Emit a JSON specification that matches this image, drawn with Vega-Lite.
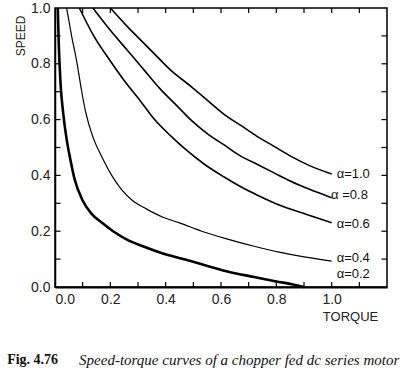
{
  "$schema": "https://vega.github.io/schema/vega-lite/v6.json",
  "width": 332,
  "height": 279,
  "autosize": {"type": "none"},
  "padding": {"left": 55, "top": 8, "right": 15, "bottom": 85},
  "config": {"view": {"stroke": "black", "strokeWidth": 1.5}},
  "data": {"values": [
      {"alpha":"0.2","torque":0.01,"speed":1.0},{"alpha":"0.2","torque":0.014,"speed":0.86},{"alpha":"0.2","torque":0.02,"speed":0.73},{"alpha":"0.2","torque":0.03,"speed":0.62},{"alpha":"0.2","torque":0.042,"speed":0.53},{"alpha":"0.2","torque":0.055,"speed":0.46},{"alpha":"0.2","torque":0.07,"speed":0.39},{"alpha":"0.2","torque":0.1,"speed":0.31},{"alpha":"0.2","torque":0.13,"speed":0.265},{"alpha":"0.2","torque":0.17,"speed":0.23},{"alpha":"0.2","torque":0.21,"speed":0.2},{"alpha":"0.2","torque":0.26,"speed":0.17},{"alpha":"0.2","torque":0.32,"speed":0.145},{"alpha":"0.2","torque":0.39,"speed":0.12},{"alpha":"0.2","torque":0.49,"speed":0.093},{"alpha":"0.2","torque":0.56,"speed":0.073},{"alpha":"0.2","torque":0.63,"speed":0.054},{"alpha":"0.2","torque":0.72,"speed":0.036},{"alpha":"0.2","torque":0.8,"speed":0.02},{"alpha":"0.2","torque":0.86,"speed":0.009},{"alpha":"0.2","torque":0.9,"speed":0.0},
      {"alpha":"0.4","torque":0.042,"speed":1.0},{"alpha":"0.4","torque":0.06,"speed":0.9},{"alpha":"0.4","torque":0.08,"speed":0.8},{"alpha":"0.4","torque":0.095,"speed":0.71},{"alpha":"0.4","torque":0.11,"speed":0.63},{"alpha":"0.4","torque":0.14,"speed":0.53},{"alpha":"0.4","torque":0.17,"speed":0.465},{"alpha":"0.4","torque":0.205,"speed":0.4},{"alpha":"0.4","torque":0.24,"speed":0.35},{"alpha":"0.4","torque":0.28,"speed":0.31},{"alpha":"0.4","torque":0.33,"speed":0.28},{"alpha":"0.4","torque":0.39,"speed":0.25},{"alpha":"0.4","torque":0.45,"speed":0.23},{"alpha":"0.4","torque":0.53,"speed":0.2},{"alpha":"0.4","torque":0.63,"speed":0.17},{"alpha":"0.4","torque":0.72,"speed":0.146},{"alpha":"0.4","torque":0.81,"speed":0.125},{"alpha":"0.4","torque":0.9,"speed":0.108},{"alpha":"0.4","torque":1.0,"speed":0.093},
      {"alpha":"0.6","torque":0.088,"speed":1.0},{"alpha":"0.6","torque":0.14,"speed":0.9},{"alpha":"0.6","torque":0.2,"speed":0.81},{"alpha":"0.6","torque":0.25,"speed":0.74},{"alpha":"0.6","torque":0.31,"speed":0.665},{"alpha":"0.6","torque":0.36,"speed":0.6},{"alpha":"0.6","torque":0.42,"speed":0.54},{"alpha":"0.6","torque":0.47,"speed":0.495},{"alpha":"0.6","torque":0.54,"speed":0.44},{"alpha":"0.6","torque":0.61,"speed":0.395},{"alpha":"0.6","torque":0.67,"speed":0.36},{"alpha":"0.6","torque":0.73,"speed":0.33},{"alpha":"0.6","torque":0.82,"speed":0.29},{"alpha":"0.6","torque":0.91,"speed":0.26},{"alpha":"0.6","torque":1.0,"speed":0.23},
      {"alpha":"0.8","torque":0.137,"speed":1.0},{"alpha":"0.8","torque":0.2,"speed":0.92},{"alpha":"0.8","torque":0.26,"speed":0.85},{"alpha":"0.8","torque":0.32,"speed":0.78},{"alpha":"0.8","torque":0.38,"speed":0.71},{"alpha":"0.8","torque":0.44,"speed":0.65},{"alpha":"0.8","torque":0.49,"speed":0.6},{"alpha":"0.8","torque":0.55,"speed":0.55},{"alpha":"0.8","torque":0.61,"speed":0.51},{"alpha":"0.8","torque":0.67,"speed":0.47},{"alpha":"0.8","torque":0.73,"speed":0.44},{"alpha":"0.8","torque":0.79,"speed":0.41},{"alpha":"0.8","torque":0.85,"speed":0.38},{"alpha":"0.8","torque":0.92,"speed":0.35},{"alpha":"0.8","torque":1.0,"speed":0.32},
      {"alpha":"1.0","torque":0.2,"speed":1.0},{"alpha":"1.0","torque":0.26,"speed":0.935},{"alpha":"1.0","torque":0.32,"speed":0.875},{"alpha":"1.0","torque":0.37,"speed":0.825},{"alpha":"1.0","torque":0.415,"speed":0.78},{"alpha":"1.0","torque":0.49,"speed":0.72},{"alpha":"1.0","torque":0.55,"speed":0.67},{"alpha":"1.0","torque":0.61,"speed":0.62},{"alpha":"1.0","torque":0.67,"speed":0.58},{"alpha":"1.0","torque":0.73,"speed":0.54},{"alpha":"1.0","torque":0.79,"speed":0.505},{"alpha":"1.0","torque":0.85,"speed":0.47},{"alpha":"1.0","torque":0.92,"speed":0.435},{"alpha":"1.0","torque":1.0,"speed":0.405}
  ]},
  "layer": [
    {
      "data": {"values": [{"t":0.1},{"t":0.2},{"t":0.3},{"t":0.4},{"t":0.5},{"t":0.6},{"t":0.7},{"t":0.8},{"t":0.9},{"t":1.0},{"t":1.1}]},
      "mark": {"type": "rule", "color": "black", "strokeWidth": 1.2},
      "encoding": {
        "x": {
          "field": "t", "type": "quantitative",
          "scale": {"domain": [0, 1.2], "nice": false, "zero": false},
          "axis": {
            "orient": "bottom", "values": [0,0.2,0.4,0.6,0.8,1.0], "format": ".1f",
            "grid": false, "domainColor": "black", "domainWidth": 2, "tickSize": 0,
            "labelPadding": 5, "labelFontSize": 14, "labelColor": "#222", "labelFont": "Liberation Sans",
            "title": "TORQUE", "titleFont": "Liberation Sans", "titleFontSize": 13, "titleFontWeight": "normal", "titleColor": "#222",
            "titleX": 295, "titleY": 29, "titleAlign": "center", "titleBaseline": "middle"
          }
        },
        "y": {
          "datum": 0, "type": "quantitative",
          "scale": {"domain": [0, 1], "nice": false, "zero": false},
          "axis": {
            "orient": "left", "values": [0,0.2,0.4,0.6,0.8,1.0], "format": ".1f",
            "grid": false, "domainColor": "black", "domainWidth": 1.5, "tickSize": 0,
            "labelPadding": 5, "labelFontSize": 14, "labelColor": "#222", "labelFont": "Liberation Sans",
            "title": "SPEED", "titleFont": "Liberation Sans", "titleFontSize": 12, "titleFontWeight": "normal", "titleColor": "#222",
            "titleAngle": -90, "titleX": -35, "titleY": 7, "titleAlign": "right", "titleBaseline": "middle"
          }
        },
        "y2": {"datum": 0.018}
      }
    },
    {
      "data": {"values": [{"t":0.1},{"t":0.2},{"t":0.3},{"t":0.4},{"t":0.5},{"t":0.6},{"t":0.7},{"t":0.8},{"t":0.9},{"t":1.0},{"t":1.1}]},
      "mark": {"type": "rule", "color": "black", "strokeWidth": 1.2},
      "encoding": {"x": {"field": "t", "type": "quantitative"}, "y": {"datum": 1, "type": "quantitative"}, "y2": {"datum": 0.982}}
    },
    {
      "data": {"values": [{"t":0.1},{"t":0.2},{"t":0.3},{"t":0.4},{"t":0.5},{"t":0.6},{"t":0.7},{"t":0.8},{"t":0.9}]},
      "mark": {"type": "rule", "color": "black", "strokeWidth": 1.2},
      "encoding": {"y": {"field": "t", "type": "quantitative"}, "x": {"datum": 0, "type": "quantitative"}, "x2": {"datum": 0.02}}
    },
    {
      "data": {"values": [{"t":0.1},{"t":0.2},{"t":0.3},{"t":0.4},{"t":0.5},{"t":0.6},{"t":0.7},{"t":0.8},{"t":0.9}]},
      "mark": {"type": "rule", "color": "black", "strokeWidth": 1.2},
      "encoding": {"y": {"field": "t", "type": "quantitative"}, "x": {"datum": 1.2, "type": "quantitative"}, "x2": {"datum": 1.18}}
    },
    {
      "transform": [{"filter": "datum.alpha == '0.2'"}],
      "mark": {"type": "line", "interpolate": "monotone", "color": "black", "strokeWidth": 2.6},
      "encoding": {"x": {"field": "torque", "type": "quantitative"}, "y": {"field": "speed", "type": "quantitative"}}
    },
    {
      "transform": [{"filter": "datum.alpha == '0.4'"}],
      "mark": {"type": "line", "interpolate": "monotone", "color": "black", "strokeWidth": 1.2},
      "encoding": {"x": {"field": "torque", "type": "quantitative"}, "y": {"field": "speed", "type": "quantitative"}}
    },
    {
      "transform": [{"filter": "datum.alpha != '0.2' && datum.alpha != '0.4'"}],
      "mark": {"type": "line", "interpolate": "monotone", "color": "black", "strokeWidth": 1.6},
      "encoding": {"x": {"field": "torque", "type": "quantitative"}, "y": {"field": "speed", "type": "quantitative"}, "detail": {"field": "alpha", "type": "nominal"}}
    },
    {
      "data": {"values": [
        {"label":"α=1.0","torque":1.018,"speed":0.405},
        {"label":"α =0.8","torque":0.998,"speed":0.33},
        {"label":"α=0.6","torque":1.018,"speed":0.226},
        {"label":"α=0.4","torque":1.018,"speed":0.104},
        {"label":"α=0.2","torque":1.018,"speed":0.047}
      ]},
      "mark": {"type": "text", "align": "left", "baseline": "middle", "fontSize": 13, "font": "Liberation Sans", "color": "#111"},
      "encoding": {
        "x": {"field": "torque", "type": "quantitative"},
        "y": {"field": "speed", "type": "quantitative"},
        "text": {"field": "label", "type": "nominal"}
      }
    },
    {
      "data": {"values": [{"label":"Fig. 4.76","torque":-0.173,"speed":-0.262}]},
      "mark": {"type": "text", "align": "left", "baseline": "middle", "fontSize": 14, "font": "Liberation Serif", "fontWeight": "bold", "color": "#111"},
      "encoding": {
        "x": {"field": "torque", "type": "quantitative"},
        "y": {"field": "speed", "type": "quantitative"},
        "text": {"field": "label", "type": "nominal"}
      }
    },
    {
      "data": {"values": [{"label":"Speed-torque curves of a chopper fed dc series motor","torque":0.087,"speed":-0.262}]},
      "mark": {"type": "text", "align": "left", "baseline": "middle", "fontSize": 15, "font": "Liberation Serif", "fontStyle": "italic", "color": "#111"},
      "encoding": {
        "x": {"field": "torque", "type": "quantitative"},
        "y": {"field": "speed", "type": "quantitative"},
        "text": {"field": "label", "type": "nominal"}
      }
    }
  ]
}
